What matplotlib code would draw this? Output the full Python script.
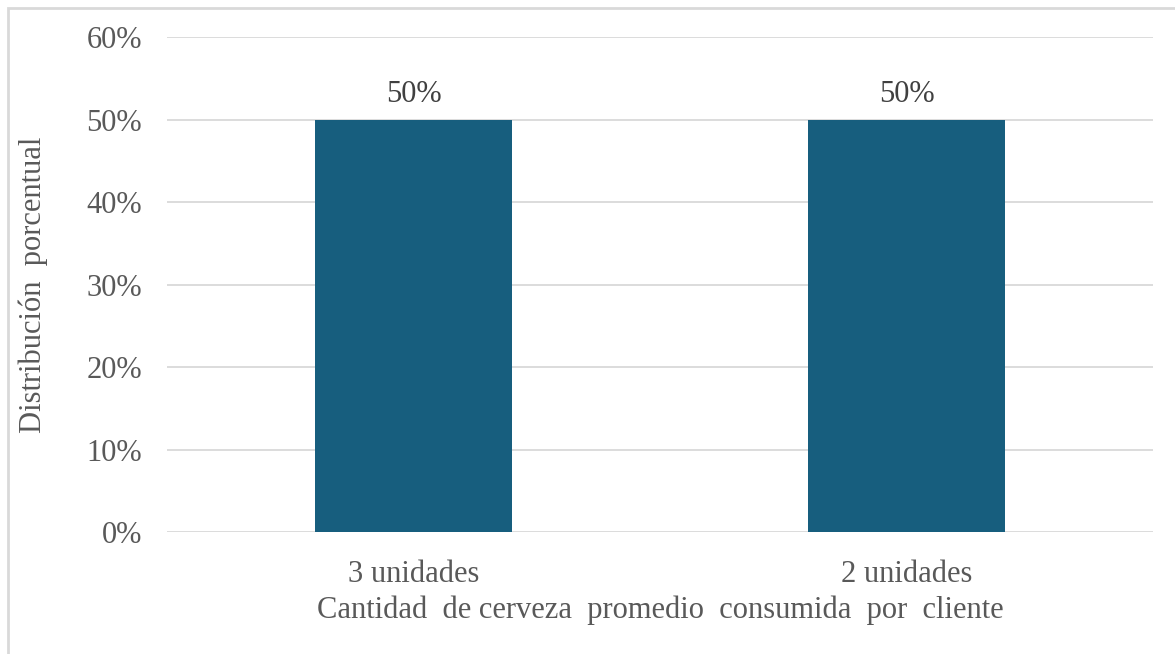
import matplotlib
matplotlib.use("Agg")
import matplotlib.pyplot as plt
from matplotlib.patches import Rectangle
from matplotlib.ticker import PercentFormatter

categories = ["3 unidades", "2 unidades"]
shares = [0.50, 0.50]
y_ticks = [0.0, 0.1, 0.2, 0.3, 0.4, 0.5, 0.6]

plt.rcParams["font.family"] = ["Liberation Serif", "DejaVu Serif"]
text_color = "#595959"
bar_color = "#175E7E"
grid_color = "#D9D9D9"
fs = 22

fig = plt.figure(figsize=(11.75, 6.54), dpi=100)
ax = fig.add_axes([0.1421, 0.1865, 0.8392, 0.7569])

# outer chart-area frame
fig.patches.append(Rectangle((8 / 1175, -0.01), 1.1, 1 - 8 / 654 + 0.01,
                             transform=fig.transFigure, fill=False,
                             edgecolor="#D9D9D9", linewidth=2))

x = range(len(categories))
bars = ax.bar(x, shares, width=0.4, color=bar_color, zorder=3)
for b, v in zip(bars, shares):
    ax.text(b.get_x() + b.get_width() / 2, v + 0.013, f"{v:.0%}",
            ha="center", va="bottom", fontsize=fs, color="#404040")

ax.set_xlim(-0.5, 1.5)
ax.set_ylim(0, 0.6)
ax.set_yticks(y_ticks)
ax.yaxis.set_major_formatter(PercentFormatter(1.0, decimals=0))
ax.set_xticks(list(x))
ax.set_xticklabels(categories)
ax.grid(axis="y", color=grid_color, linewidth=1.3, zorder=0)
for s in ax.spines.values():
    s.set_visible(False)
ax.tick_params(axis="both", length=0, labelsize=fs, colors=text_color)
ax.tick_params(axis="y", pad=18)
ax.tick_params(axis="x", pad=20)

ax.set_ylabel("Distribución  porcentual", fontsize=fs, color=text_color)
ax.set_xlabel("Cantidad  de cerveza  promedio  consumida  por  cliente",
              fontsize=fs, color=text_color)
ax.yaxis.set_label_coords(-0.121, 0.5)
ax.xaxis.set_label_coords(0.5, -0.128)

fig.savefig("out.png", dpi=100)
